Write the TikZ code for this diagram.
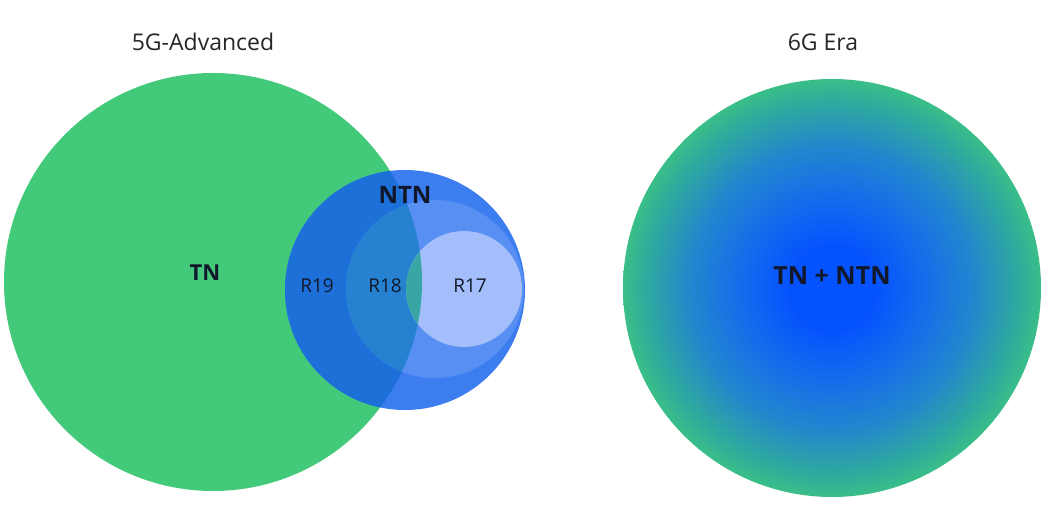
\documentclass[tikz,border=0pt]{standalone}
\usepackage{fontspec}
\setmainfont{Open Sans}
\definecolor{tngreen}{RGB}{66,201,122}
\definecolor{ntnout}{RGB}{60,125,240}
\definecolor{ntnin}{RGB}{28,112,216}
\definecolor{rxout}{RGB}{88,143,242}
\definecolor{rxin}{RGB}{38,130,208}
\definecolor{rsout}{RGB}{163,190,250}
\definecolor{rsin}{RGB}{58,165,165}
\definecolor{txt}{RGB}{18,24,44}
\definecolor{gcore}{RGB}{5,82,255}
\definecolor{gcore2}{RGB}{22,108,235}
\definecolor{gmid}{RGB}{34,135,205}
\definecolor{gmid2}{RGB}{46,168,160}
\definecolor{gedge}{RGB}{58,190,136}
\pgfdeclareradialshading{eraball}{\pgfpoint{0bp}{0bp}}{%
  color(0bp)=(gcore); color(5bp)=(gcore); color(11bp)=(gcore2);
  color(17bp)=(gmid); color(22bp)=(gmid2); color(25bp)=(gedge); color(50bp)=(gedge)}
\tikzset{
  title/.style={font=\fontsize{23}{27}\selectfont, text=black!85},
  setlabel/.style={font=\bfseries\fontsize{#1}{#1}\selectfont, text=txt},
  rlabel/.style={font=\fontsize{19}{20}\selectfont, text=txt},
}
\begin{document}
\begin{tikzpicture}[x=1pt,y=-1pt]
\useasboundingbox (0,0) rectangle (1052,506);
\coordinate (tnc) at (213,282);
\coordinate (ntnc) at (405,290);
\coordinate (r18c) at (435,289);
\coordinate (r17c) at (464,289);
\coordinate (erac) at (832,288);
% 5G-Advanced sets
\fill[tngreen] (tnc) circle[radius=209pt];
\fill[ntnout] (ntnc) circle[radius=120pt];
\begin{scope}
  \clip (tnc) circle[radius=209pt];
  \fill[ntnin] (ntnc) circle[radius=120pt];
\end{scope}
\fill[rxout] (r18c) circle[radius=89pt];
\begin{scope}
  \clip (tnc) circle[radius=209pt];
  \fill[rxin] (r18c) circle[radius=89pt];
\end{scope}
\fill[rsout] (r17c) circle[radius=58pt];
\begin{scope}
  \clip (tnc) circle[radius=209pt];
  \fill[rsin] (r17c) circle[radius=58pt];
\end{scope}
% 6G era
\shade[shading=eraball] (erac) circle[radius=209pt];
% labels
\node[title] (t5g) at (203,42) {5G-Advanced};
\node[title] (t6g) at (823,42) {6G Era};
\node[setlabel=22] (tn) at (205,273) {TN};
\node[setlabel=24] (ntn) at (405,195) {NTN};
\node[rlabel] (r19) at (317,286) {R19};
\node[rlabel] (r18) at (385,286) {R18};
\node[rlabel] (r17) at (470,286) {R17};
\node[setlabel=25] (both) at (832,276) {TN + NTN};
\end{tikzpicture}
\end{document}
